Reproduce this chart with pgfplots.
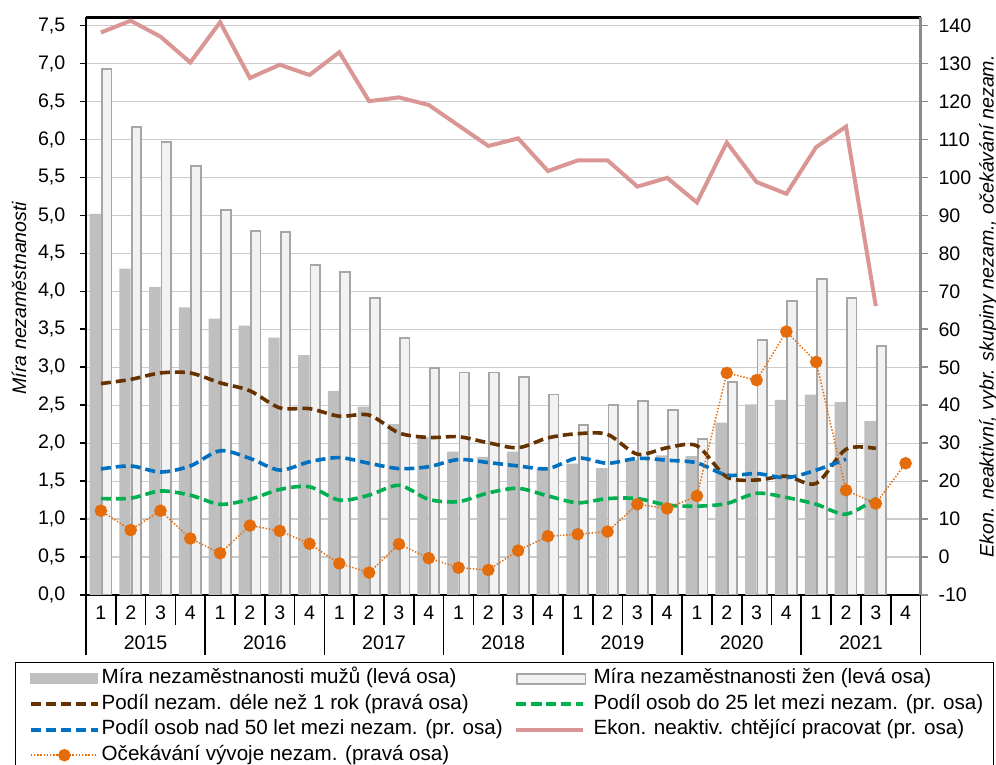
\documentclass[border=0pt]{standalone}
\usepackage{pgfplots}
\usepackage{pgfplotstable}
\pgfplotsset{compat=1.18}
\usepackage{fontspec}
\setmainfont{Liberation Sans}

\definecolor{menbar}{RGB}{191,191,191}
\definecolor{womfill}{RGB}{242,242,242}
\definecolor{womedge}{RGB}{166,166,166}
\definecolor{brownl}{RGB}{102,51,0}
\definecolor{greenl}{RGB}{0,176,80}
\definecolor{bluel}{RGB}{0,112,192}
\definecolor{pinkl}{RGB}{217,150,148}
\definecolor{orangel}{RGB}{228,108,10}
\definecolor{gridc}{RGB}{204,204,204}
\definecolor{raxis}{RGB}{140,140,140}

\pgfplotstableread{
x men women
1 5.02 6.93
2 4.30 6.16
3 4.06 5.97
4 3.79 5.65
5 3.64 5.07
6 3.55 4.80
7 3.39 4.78
8 3.16 4.35
9 2.69 4.26
10 2.48 3.91
11 2.25 3.39
12 2.08 2.99
13 1.89 2.93
14 1.82 2.93
15 1.89 2.87
16 1.67 2.64
17 1.73 2.24
18 1.67 2.50
19 1.78 2.56
20 1.84 2.44
21 1.83 2.05
22 2.27 2.81
23 2.51 3.36
24 2.57 3.87
25 2.64 4.16
26 2.54 3.91
27 2.29 3.28
}\barsdata

\pgfplotstableread{
x brown green blue pink orange
1 45.7 15.4 23.2 138.2 12.2
2 46.8 15.5 24.0 141.3 7.1
3 48.5 17.4 22.4 137.1 12.2
4 48.5 16.3 24.0 130.3 4.9
5 45.9 13.9 28.0 140.9 1.0
6 43.8 15.2 26.0 126.2 8.3
7 39.3 17.8 22.9 129.7 6.9
8 39.1 18.5 25.1 127.0 3.5
9 37.1 15.0 26.2 133.0 -1.7
10 37.4 16.3 24.7 120.1 -4.1
11 32.7 18.9 23.3 121.1 3.4
12 31.5 15.2 23.8 119.1 -0.3
13 31.7 14.6 25.7 113.7 -2.8
14 30.1 16.9 24.9 108.3 -3.4
15 28.8 18.1 24.0 110.3 1.7
16 31.4 16.1 23.3 101.7 5.5
17 32.5 14.3 26.1 104.5 6.0
18 32.3 15.4 24.7 104.5 6.7
19 27.1 15.4 26.0 97.6 13.9
20 28.8 13.7 25.5 99.9 12.8
21 29.3 13.4 24.8 93.4 16.1
22 21.1 14.1 21.6 109.2 48.5
23 20.3 16.8 22.0 98.8 46.6
24 21.3 15.7 20.9 95.7 59.4
25 19.4 13.9 22.9 108.0 51.4
26 28.4 11.3 25.8 113.4 17.6
27 28.6 15.4 nan 66.1 14.1
28 nan nan nan nan 24.7
}\linedata

\begin{document}
\begin{tikzpicture}[font=\fontsize{9.8}{11.8}\selectfont]
\begin{axis}[
  name=main,
  scale only axis, width=417.25pt, height=288.85pt,
  xmin=0.5, xmax=28.5, ymin=0, ymax=7.61,
  separate axis lines,
  axis x line*=box, axis y line*=left,
  x axis line style={black, line width=1.4pt},
  y axis line style={black, line width=1.25pt},
  tick align=outside,
  major tick length=3pt,
  minor tick length=15pt,
  xtick={1,...,28},
  xticklabels={1,2,3,4,1,2,3,4,1,2,3,4,1,2,3,4,1,2,3,4,1,2,3,4,1,2,3,4},
  minor xtick={0.5,1.5,...,28.5},
  xtick pos=left, ytick pos=left,
  major x tick style={draw=none},
  minor x tick style={black, line width=0.85pt},
  ytick={0,0.5,...,7.5},
  major y tick style={black, line width=0.8pt},
  ymajorgrids, grid style={gridc, line width=0.6pt},
  yticklabel style={/pgf/number format/fixed, /pgf/number format/fixed zerofill, /pgf/number format/precision=1, /pgf/number format/use comma, /pgf/number format/assume math mode=true, inner sep=0pt, xshift=-7.15pt},
  xticklabel style={anchor=base, inner sep=0pt, yshift=-9.15pt},
  ylabel={Míra nezaměstnanosti},
  ylabel style={font=\fontsize{9.8}{11.8}\selectfont\itshape, at={(axis description cs:-0.0803,0.514)}, anchor=center},
]
\addplot[ybar, bar width=5.7pt, bar shift=-2.85pt, fill=menbar, draw=none] table[x=x, y=men] {\barsdata};
\addplot[ybar, bar width=4.8pt, bar shift=2.85pt, fill=womfill, draw=womedge, line width=0.9pt] table[x=x, y=women] {\barsdata};
\end{axis}

\begin{axis}[
  scale only axis, width=417.25pt, height=288.85pt,
  xmin=0.5, xmax=28.5, ymin=-10, ymax=142.2,
  axis x line=none,
  axis y line*=right,
  y axis line style={raxis, line width=1.5pt},
  ytick={-10,0,...,140},
  tick align=outside, major tick length=3.5pt,
  ytick style={raxis, line width=0.8pt},
  yticklabel style={/pgf/number format/assume math mode=true, inner sep=0pt, xshift=5.3pt},
  ylabel={Ekon. neaktivní, vybr. skupiny nezam., očekávání nezam.},
  ylabel style={font=\fontsize{9.8}{11.8}\selectfont\itshape, at={(axis description cs:1.0815,0.5)}, anchor=center},
  unbounded coords=jump,
  legend image code/.code={\draw[mark repeat=2,mark phase=2,#1] plot coordinates {(0pt,0pt) (16.75pt,0pt) (33.5pt,0pt)};},
  legend cell align=left,
  legend columns=2,
  legend style={at={(axis description cs:-0.0851,-0.1155)}, anchor=north west, draw=black, line width=0.5pt, fill=white,
    inner xsep=6.8pt, inner ysep=3.5pt, row sep=3.25pt,
    nodes={inner sep=0pt, text height=7.3pt, text depth=2.2pt},
    /tikz/column 1/.style={column sep=1pt},
    /tikz/column 2/.style={column sep=0pt},
    /tikz/column 3/.style={column sep=3.6pt},
    font=\fontsize{10.3}{12.3}\selectfont},
]
\addlegendimage{legend image code/.code={\fill[menbar] (0pt,-2.5pt) rectangle (33.5pt,2.5pt);}}
\addlegendentry{\makebox[206.35pt][l]{Míra nezaměstnanosti mužů (levá osa)}}
\addlegendimage{legend image code/.code={\filldraw[fill=womfill, draw=womedge, line width=0.9pt] (0.45pt,-2.5pt) rectangle (34.55pt,2.5pt);}}
\addlegendentry{\makebox[193pt][l]{Míra nezaměstnanosti žen (levá osa)}}

\addplot[brownl, line width=1.8pt, dash pattern=on 5pt off 2.5pt, smooth, tension=0.5] table[x=x, y=brown] {\linedata};
\addlegendentry{\makebox[206.35pt][l]{Podíl nezam. déle než 1 rok (pravá osa)}}
\addplot[greenl, line width=1.8pt, dash pattern=on 5pt off 2.5pt, smooth, tension=0.5] table[x=x, y=green] {\linedata};
\addlegendentry{\makebox[193pt][l]{Podíl osob do 25 let mezi nezam. (pr. osa)}}
\addplot[bluel, line width=1.8pt, dash pattern=on 5pt off 2.5pt, smooth, tension=0.5] table[x=x, y=blue] {\linedata};
\addlegendentry{\makebox[206.35pt][l]{Podíl osob nad 50 let mezi nezam. (pr. osa)}}
\addplot[pinkl, line width=2pt] table[x=x, y=pink] {\linedata};
\addlegendentry{\makebox[193pt][l]{Ekon. neaktiv. chtějící pracovat (pr. osa)}}
\addplot[orangel, line width=0.75pt, dash pattern=on 0.7pt off 0.9pt, mark=*, mark size=2.75pt, mark options={solid, fill=orangel, draw=orangel}] table[x=x, y=orange] {\linedata};
\addlegendentry{\makebox[206.35pt][l]{Očekávání vývoje nezam. (pravá osa)}}
\end{axis}

\foreach \k in {0,...,7} \draw[black, line width=0.85pt] ([xshift=\k*59.6071pt]main.south west) -- ++(0,-30pt);
\foreach \k/\yr in {0/2015,1/2016,2/2017,3/2018,4/2019,5/2020,6/2021}
  \node[anchor=base, inner sep=0pt] at ([xshift=\k*59.6071pt+29.8036pt, yshift=-27.15pt]main.south west) {\yr};

\pgfresetboundingbox
\path[use as bounding box] ([xshift=-43pt, yshift=-85pt]main.south west) rectangle ([xshift=455pt, yshift=297.5pt]main.south west);
\end{tikzpicture}
\end{document}
